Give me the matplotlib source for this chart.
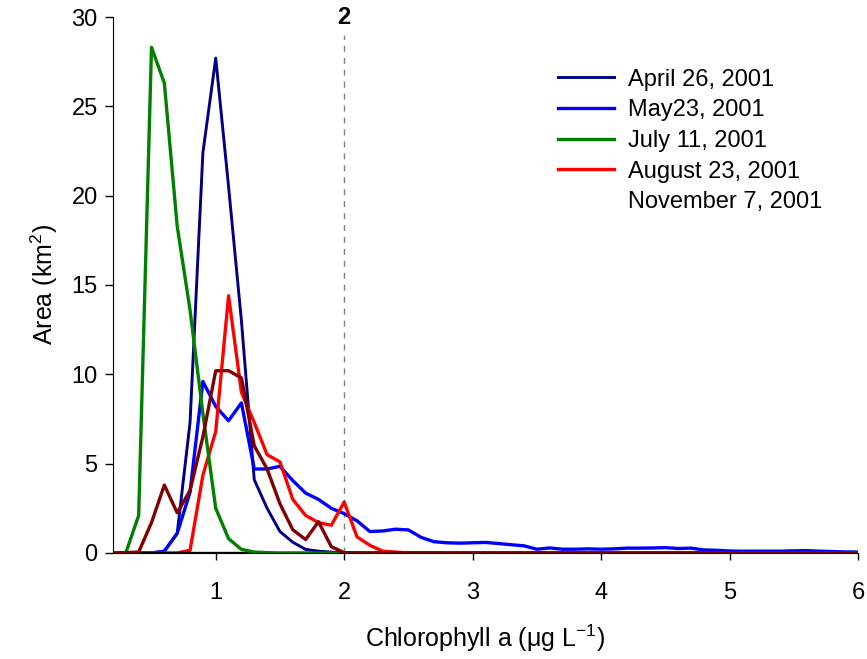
import matplotlib
matplotlib.use("Agg")
import matplotlib.pyplot as plt
from matplotlib.lines import Line2D
import numpy as np

plt.rcParams['font.family'] = ['Liberation Sans', 'DejaVu Sans']
plt.rcParams['mathtext.fontset'] = 'custom'
plt.rcParams['mathtext.rm'] = 'Liberation Sans'
plt.rcParams['mathtext.it'] = 'Liberation Sans:italic'

# chlorophyll classes (0.1 ug/L bins)
chl = np.round(np.arange(0.2, 6.01, 0.1), 1)

april = [0, 0, 0, 0, 0.1, 1.1, 7.3, 22.4, 27.7, 20.5, 13.0, 4.1, 2.5, 1.2,
         0.6, 0.2, 0.1, 0.05] + [0] * 41
may = [0, 0, 0, 0, 0.1, 1.1, 3.4, 9.6, 8.2, 7.4, 8.4, 4.7, 4.7, 4.85, 4.05,
       3.35, 3.0, 2.5, 2.2, 1.8, 1.2, 1.23, 1.33, 1.29, 0.87, 0.63, 0.57,
       0.55, 0.57, 0.59, 0.53, 0.46, 0.4, 0.21, 0.28, 0.21, 0.21, 0.23, 0.21,
       0.23, 0.27, 0.27, 0.28, 0.3, 0.25, 0.27, 0.17, 0.15, 0.11, 0.1, 0.1,
       0.1, 0.1, 0.12, 0.13, 0.1, 0.08, 0.06, 0.05]
july = [0, 0, 2.1, 28.3, 26.3, 18.3, 13.6, 7.8, 2.5, 0.8, 0.2, 0.05,
        0.02] + [0] * 46
august = [0, 0, 0, 0, 0, 0, 0.15, 4.35, 6.8, 14.4, 9.0, 7.3, 5.5, 5.1, 3.0,
          2.1, 1.7, 1.55, 2.85, 0.9, 0.43, 0.1, 0.05] + [0] * 36
november = [0, 0.02, 0.05, 1.7, 3.8, 2.25, 3.5, 6.5, 10.2, 10.2, 9.8, 6.0,
            4.7, 2.75, 1.3, 0.75, 1.75, 0.35, 0.02] + [0] * 40
baseline = [0] * 59

labels = ['April 26, 2001', 'May23, 2001', 'July 11, 2001',
          'August 23, 2001', 'November 7, 2001']

fig = plt.figure(figsize=(8.67, 6.59), dpi=100)
ax = fig.add_axes([0.1303, 0.1609, 0.8593, 0.8133])

l1, = ax.plot(chl, april, color='#000080', lw=2.1, zorder=2.0)
l2, = ax.plot(chl, may, color='#0000ff', lw=2.4, zorder=2.1)
l4, = ax.plot(chl, august, color='#ff0000', lw=2.4, zorder=2.2)
ax.plot(chl, baseline, color='black', lw=2.4, zorder=2.3)
l3, = ax.plot(chl, july, color='#008000', lw=2.4, zorder=2.4)
ax.plot(chl, november, color='#800000', lw=2.4, zorder=2.5)

ax.plot([2, 2], [0, 29], color='gray', lw=1, ls=(0, (4.3, 4.3)), zorder=1)
ax.text(2, 30, '2', ha='center', va='center', fontsize=17,
        fontweight='bold', clip_on=False)

ax.set_xlim(0.2, 6)
ax.set_ylim(0, 30)
ax.set_xticks([1, 2, 3, 4, 5, 6])
ax.set_yticks([0, 5, 10, 15, 20, 25, 30])
ax.tick_params(axis='x', labelsize=17, pad=16, length=5, width=1)
ax.tick_params(axis='y', labelsize=17, pad=5, length=6, width=1)
for s in ['top', 'right']:
    ax.spines[s].set_visible(False)

ax.set_xlabel('Chlorophyll a (\u03bcg L$^{-1}$)', fontsize=18, labelpad=13)
ax.set_ylabel(r'Area (km$^{2}$)', fontsize=18, labelpad=8)

blank = Line2D([], [], color='none')
fig.legend([l1, l2, l3, l4, blank], labels, loc='upper left',
           bbox_to_anchor=(0.6436, 0.896), frameon=False, fontsize=17,
           handlelength=2.37, handletextpad=0.6, labelspacing=0.37,
           borderpad=0, borderaxespad=0)

fig.savefig('out.png', dpi=100)
